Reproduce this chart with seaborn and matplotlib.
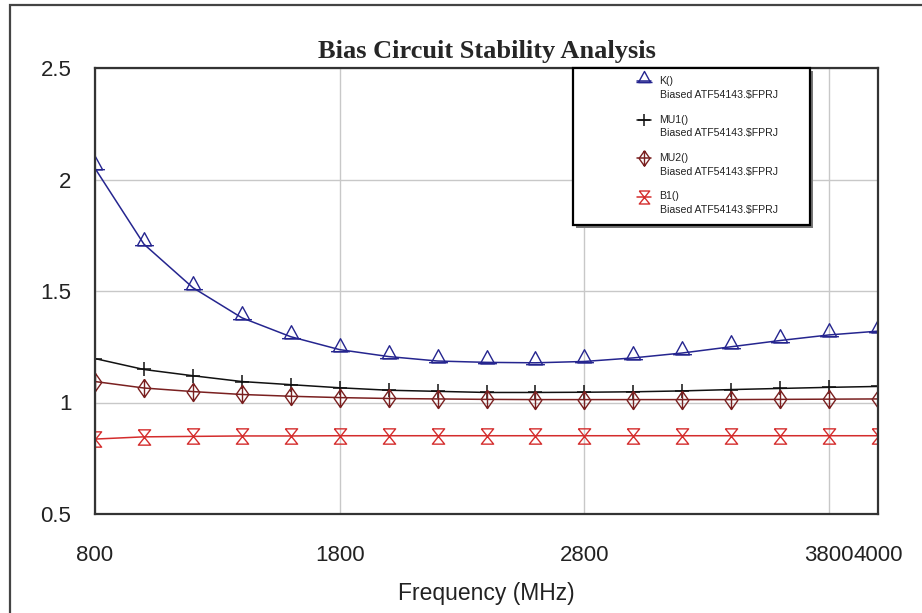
import matplotlib
matplotlib.use("Agg")
import matplotlib.pyplot as plt
import seaborn as sns
from matplotlib.path import Path
from matplotlib.patches import Rectangle

# frequency sweep (MHz) and stability factors
freq = [800, 1000, 1200, 1400, 1600, 1800, 2000, 2200, 2400,
        2600, 2800, 3000, 3200, 3400, 3600, 3800, 4000]
k_vals = [2.05, 1.71, 1.515, 1.38, 1.295, 1.237, 1.206, 1.186, 1.18,
          1.178, 1.184, 1.20, 1.222, 1.25, 1.278, 1.303, 1.32]
mu1_vals = [1.197, 1.148, 1.12, 1.094, 1.08, 1.066, 1.055, 1.05, 1.045,
            1.045, 1.046, 1.048, 1.052, 1.058, 1.063, 1.068, 1.072]
mu2_vals = [1.094, 1.065, 1.049, 1.036, 1.028, 1.022, 1.018, 1.016, 1.014,
            1.013, 1.013, 1.013, 1.013, 1.013, 1.014, 1.015, 1.016]
b1_vals = [0.836, 0.846, 0.848, 0.85, 0.85, 0.851, 0.851, 0.851, 0.851,
           0.851, 0.851, 0.851, 0.851, 0.851, 0.851, 0.851, 0.851]

series_names = ["K()", "MU1()", "MU2()", "B1()"]
source_name = "Biased ATF54143.$FPRJ"
x_ticks = [800, 1800, 2800, 3800, 4000]
x_labels = ["800", "1800", "2800", "3800", "4000"]
y_ticks = [0.5, 1, 1.5, 2, 2.5]
y_labels = ["0.5", "1", "1.5", "2", "2.5"]

# custom marker shapes
M, L = Path.MOVETO, Path.LINETO
tri = Path([(-0.6, -0.1), (0.6, -0.1), (0, 1.0), (-0.6, -0.1),
            (-0.8, -0.1), (0.8, -0.1)],
           [M, L, L, L, M, L])
dia = Path([(0, 1), (0.7, 0), (0, -1), (-0.7, 0), (0, 1),
            (0, 1), (0, -1)],
           [M, L, L, L, L, M, L])
hourglass = Path([(-0.8, 1), (0.8, 1), (-0.8, -1), (0.8, -1), (-0.8, 1)],
                 [M, L, L, L, L])

sns.set_theme(style="white")
plt.rcParams["font.family"] = ["Liberation Sans", "DejaVu Sans"]

fig = plt.figure(figsize=(9.22, 6.13), dpi=100)
fig.patch.set_facecolor("white")
ax = fig.add_axes([95 / 922, 1 - 514 / 613, 783 / 922, 446 / 613])

styles = [
    (k_vals, "#25258f", tri, 17, 1.0),
    (mu1_vals, "#111111", "+", 10, 1.1),
    (mu2_vals, "#7a2020", dia, 13, 1.0),
    (b1_vals, "#d42c2c", hourglass, 11, 1.0),
]
for name, (vals, col, mk, ms, mew) in zip(series_names, styles):
    sns.lineplot(x=freq, y=vals, ax=ax, color=col, lw=1.1,
                 marker=mk, markersize=ms, markerfacecolor="none",
                 markeredgecolor=col, markeredgewidth=mew,
                 label="\n" + name + "\n" + source_name)

ax.set_xlim(800, 4000)
ax.set_ylim(0.5, 2.5)
ax.set_xticks(x_ticks)
ax.set_xticklabels(x_labels)
ax.set_yticks(y_ticks)
ax.set_yticklabels(y_labels)
ax.tick_params(axis="x", length=0, pad=22, labelsize=16, labelcolor="#222222")
ax.tick_params(axis="y", length=0, pad=17, labelsize=16, labelcolor="#222222")
ax.grid(True, color="#c8c8c8", lw=1.0)
for s in ax.spines.values():
    s.set_color("#333333")
    s.set_linewidth(1.6)

ax.set_xlabel("Frequency (MHz)", fontsize=16.5, color="#222222", labelpad=12)
ax.set_title("Bias Circuit Stability Analysis", fontsize=19, fontweight="bold",
             family="Liberation Serif", pad=7)

# legend box with drop shadow
x0 = (573 - 95) / 783
x1 = (810 - 95) / 783
y0 = (514 - 225) / 446
ax.add_patch(Rectangle((x0 + 3 / 783, y0 - 3 / 446), x1 - x0, 1 - y0,
                       transform=ax.transAxes, facecolor="#777777",
                       edgecolor="none", zorder=5, clip_on=False))
ax.add_patch(Rectangle((x0, y0), x1 - x0, 1 - y0, transform=ax.transAxes,
                       facecolor="white", edgecolor="black", lw=1.6,
                       zorder=6, clip_on=False))
leg = ax.legend(loc="upper left", bbox_to_anchor=((630 - 95) / 783, 1.029),
                frameon=False, fontsize=7.6, handlelength=1.3,
                handletextpad=0.8, labelspacing=0.12, borderpad=0.2)
leg.set_zorder(7)
for t in leg.get_texts():
    t.set_linespacing(1.45)
    t.set_color("#222222")
for h in leg.legend_handles:
    h.set_markersize(h.get_markersize() * 0.85)

# outer frame of the picture
fig.add_artist(Rectangle((10 / 922, -0.1), 1.2, 1.1 - 5 / 613,
                         transform=fig.transFigure, fill=False,
                         edgecolor="#444444", lw=1.6))

fig.savefig("out.png", dpi=100)
